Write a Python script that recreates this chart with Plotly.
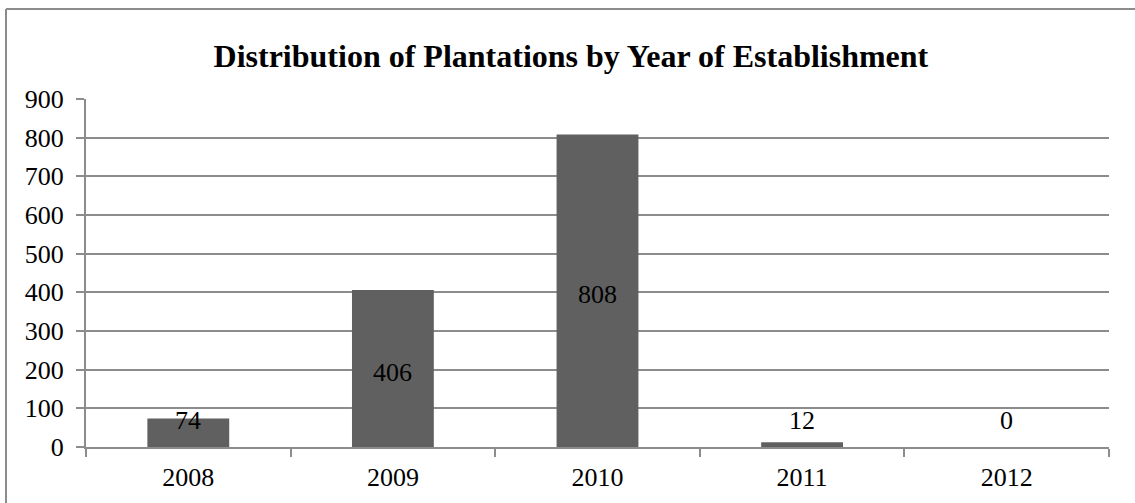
import plotly.graph_objects as go

years = ["2008", "2009", "2010", "2011", "2012"]
plantations = [74, 406, 808, 12, 0]
y_ticks = [0, 100, 200, 300, 400, 500, 600, 700, 800, 900]

FONT = "Liberation Serif, Times New Roman, serif"
GRID = "#8c8c8c"

fig = go.Figure()
fig.add_trace(go.Bar(
    x=years,
    y=plantations,
    marker=dict(color="#606060", line=dict(width=0)),
    width=0.4,
    hoverinfo="x+y",
))

# value labels sit in the middle of each bar; short bars keep them above the axis
for i, v in enumerate(plantations):
    fig.add_annotation(
        x=i, y=max(v / 2, 80), text=str(v), showarrow=False,
        xref="x", yref="y", yanchor="middle", yshift=-4,
        font=dict(family=FONT, size=26, color="#000000"),
    )

# chart frame: top and left edges of the surrounding box
frame = dict(color="#8c8c8c", width=2)
fig.add_shape(type="line", xref="paper", yref="paper",
              x0=-0.0782, x1=1.05, y0=1.2586, y1=1.2586, line=frame, layer="below")
fig.add_shape(type="line", xref="paper", yref="paper",
              x0=-0.0782, x1=-0.0782, y0=-0.2, y1=1.2586, line=frame, layer="below")

fig.update_layout(
    width=1135, height=503,
    margin=dict(l=86, r=26, t=99, b=56),
    paper_bgcolor="white", plot_bgcolor="white",
    showlegend=False,
    title=dict(
        text="<b>Distribution of Plantations by Year of Establishment</b>",
        x=0.503, xanchor="center", xref="container",
        y=1 - 56 / 503, yanchor="middle", yref="container",
        font=dict(family=FONT, size=32, color="#000000"),
    ),
    font=dict(family=FONT, size=26, color="#000000"),
)

fig.update_xaxes(
    type="category", range=[-0.5, len(years) - 0.5],
    tickson="boundaries", ticks="outside", ticklen=8,
    tickcolor=GRID, tickwidth=2, showline=True, linecolor=GRID, linewidth=2,
    showgrid=False, tickfont=dict(family=FONT, size=26, color="#000000"),
    ticklabelstandoff=6, tickangle=0, fixedrange=True,
)
fig.update_yaxes(
    range=[0, 900], tickvals=y_ticks, ticks="outside", ticklen=8,
    tickcolor=GRID, tickwidth=2, showline=True, linecolor=GRID, linewidth=2,
    showgrid=True, gridcolor=GRID, gridwidth=2, zeroline=False,
    tickfont=dict(family=FONT, size=26, color="#000000"),
    ticklabelstandoff=7, fixedrange=True,
)

fig.write_html("out.html")
